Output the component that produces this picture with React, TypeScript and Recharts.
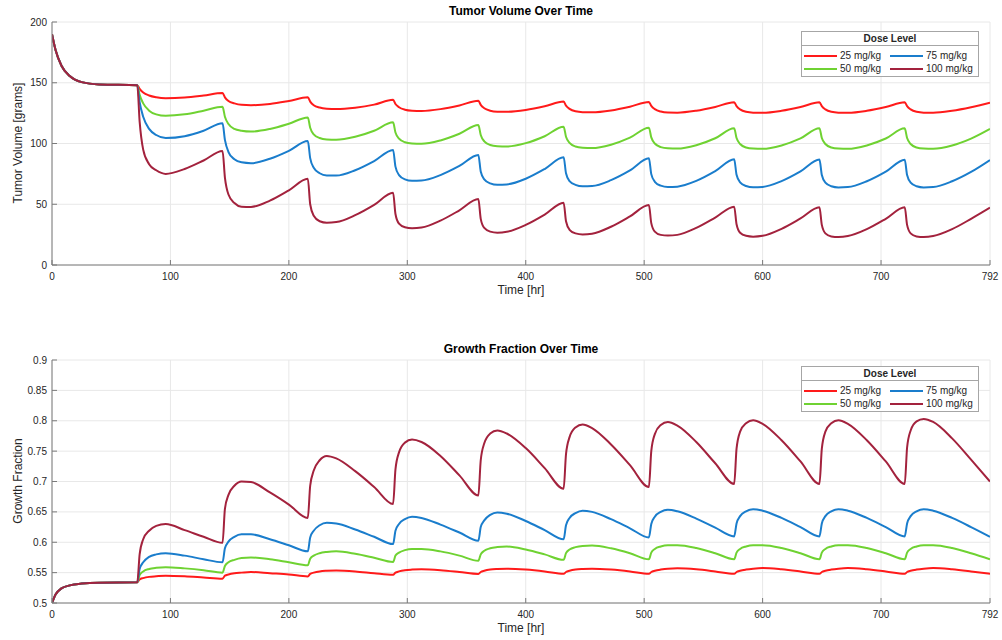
import React from 'react';
import { LineChart, Line, XAxis, YAxis, CartesianGrid } from 'recharts';

// sample times [hr]: start-up, then 8 points per 72 hr dose cycle
const hours = [
  0, 3, 8, 15, 25, 40,
  72, 74, 77, 82, 88, 96, 112, 128,
  144, 146, 149, 154, 160, 168, 184, 200,
  216, 218, 221, 226, 232, 240, 256, 272,
  288, 290, 293, 298, 304, 312, 328, 344,
  360, 362, 365, 370, 376, 384, 400, 416,
  432, 434, 437, 442, 448, 456, 472, 488,
  504, 506, 509, 514, 520, 528, 544, 560,
  576, 578, 581, 586, 592, 600, 616, 632,
  648, 650, 653, 658, 664, 672, 688, 704,
  720, 722, 725, 730, 736, 744, 760, 776,
  792,
];

const tumor25 = [
  190, 177, 164, 155.5, 150.5, 148.6,
  148, 145, 142, 139.5, 138, 137.2, 137.8, 139.5,
  141.5, 138, 135, 133, 131.8, 131.5, 132.5, 135,
  138, 134.5, 131.5, 129.6, 128.7, 128.4, 129.5, 132,
  136, 132.5, 129.8, 127.8, 127, 126.8, 128.3, 131.3,
  135.2, 131.8, 129, 127, 126.2, 126.1, 127.6, 130.6,
  134.5, 131.2, 128.5, 126.5, 125.8, 125.7, 127.2, 130.3,
  134.2, 131, 128.3, 126.3, 125.5, 125.4, 127, 130.1,
  134, 130.8, 128.1, 126.1, 125.4, 125.3, 126.9, 130,
  134, 130.8, 128.1, 126.1, 125.4, 125.3, 126.9, 130,
  134, 130.8, 128.1, 126.1, 125.4, 125.3, 126.9, 129.8,
  133.5,
];
const tumor50 = [
  190, 177, 164, 155.5, 150.5, 148.6,
  148, 140, 133, 127, 124, 122.8, 124, 127,
  130.3, 122, 116, 112, 110.5, 109.8, 112, 116.3,
  121.5, 113, 107.5, 104.5, 103.3, 103, 105.5, 110.5,
  117.4, 109, 104, 101, 100, 99.7, 102.5, 108,
  115.2, 107, 101.8, 98.8, 97.8, 97.5, 100.3, 106,
  113.8, 105.5, 100.5, 97.5, 96.5, 96.2, 99, 104.8,
  113, 105, 100, 97, 96, 95.8, 98.6, 104.3,
  112.5, 104.5, 99.6, 96.7, 95.8, 95.6, 98.4, 104.2,
  112.6, 104.5, 99.6, 96.7, 95.8, 95.6, 98.4, 104.1,
  112.5, 104.5, 99.6, 96.7, 95.8, 95.6, 98.3, 104,
  112,
];
const tumor75 = [
  190, 177, 164, 155.5, 150.5, 148.6,
  148, 134, 122, 112, 107, 104.5, 106, 110.5,
  116.6, 103, 93, 87, 84.5, 83.8, 87.5, 94,
  102, 88, 80, 75.5, 73.7, 73.6, 78, 85.5,
  94.7, 81, 74, 70.5, 69.3, 69.5, 74, 81.5,
  90.5, 77, 70.5, 67.2, 66, 66.3, 71, 79,
  88.6, 75.5, 69, 66, 64.8, 65, 69.8, 77.8,
  87.8, 74.8, 68.5, 65.3, 64.2, 64.5, 69.2, 77.2,
  87, 74.2, 68, 65, 63.9, 64.2, 69, 77,
  86.8, 74, 67.8, 64.8, 63.8, 64.1, 68.9, 76.8,
  86.7, 74, 67.8, 64.8, 63.8, 64.1, 68.9, 76.6,
  86.4,
];
const tumor100 = [
  190, 177, 164, 155.5, 150.5, 148.6,
  148, 118, 95, 83, 78, 75, 79, 86,
  93.8, 72, 58, 51, 48, 47.8, 53, 61.5,
  71, 50, 40.5, 36, 34.8, 35.3, 41, 49.5,
  59.5, 42, 34, 31, 30.2, 30.8, 36.5, 45,
  54.3, 38, 30.5, 27.5, 26.6, 27.3, 33, 41.5,
  51.3, 36, 29, 26, 25.2, 25.8, 31.5, 40,
  49.4, 34.5, 27.5, 24.8, 24.2, 24.8, 30.5, 39,
  48, 33.5, 26.5, 24, 23.3, 24, 29.8, 38.3,
  47.5, 33, 26, 23.5, 23, 23.8, 29.5, 38,
  47.5, 33, 26, 23.5, 23, 23.8, 29.5, 38,
  47.2,
];

const growth25 = [
  0.5, 0.514, 0.524, 0.529, 0.532, 0.5335,
  0.534, 0.539, 0.541, 0.543, 0.544, 0.545, 0.544, 0.542,
  0.54, 0.545, 0.547, 0.549, 0.55, 0.551, 0.549, 0.547,
  0.5437, 0.548, 0.55, 0.552, 0.553, 0.5535, 0.552, 0.549,
  0.5465, 0.55, 0.552, 0.554, 0.555, 0.5555, 0.554, 0.551,
  0.5477, 0.551, 0.553, 0.555, 0.556, 0.5565, 0.555, 0.552,
  0.548, 0.551, 0.553, 0.555, 0.556, 0.5565, 0.555, 0.552,
  0.548, 0.551, 0.553, 0.555, 0.5565, 0.557, 0.5555, 0.552,
  0.548, 0.551, 0.553, 0.555, 0.5565, 0.5575, 0.5555, 0.552,
  0.548, 0.551, 0.553, 0.555, 0.5565, 0.5575, 0.5555, 0.552,
  0.548, 0.551, 0.553, 0.555, 0.5565, 0.5575, 0.5555, 0.552,
  0.548,
];
const growth50 = [
  0.5, 0.514, 0.524, 0.529, 0.532, 0.5335,
  0.534, 0.546, 0.552, 0.556, 0.558, 0.559, 0.557, 0.554,
  0.55, 0.561, 0.567, 0.571, 0.574, 0.575, 0.572, 0.567,
  0.562, 0.573, 0.578, 0.582, 0.584, 0.585, 0.581, 0.5745,
  0.5675, 0.578, 0.583, 0.587, 0.589, 0.589, 0.585, 0.578,
  0.5695, 0.58, 0.586, 0.59, 0.592, 0.593, 0.588, 0.58,
  0.571, 0.582, 0.588, 0.592, 0.594, 0.5945, 0.59, 0.582,
  0.572, 0.583, 0.589, 0.593, 0.595, 0.595, 0.5905, 0.582,
  0.572, 0.583, 0.589, 0.593, 0.595, 0.595, 0.5905, 0.582,
  0.572, 0.583, 0.589, 0.593, 0.595, 0.595, 0.5905, 0.582,
  0.572, 0.583, 0.589, 0.593, 0.595, 0.595, 0.5905, 0.582,
  0.572,
];
const growth75 = [
  0.5, 0.514, 0.524, 0.529, 0.532, 0.5335,
  0.534, 0.556, 0.567, 0.576, 0.58, 0.582, 0.578, 0.572,
  0.567, 0.59, 0.601, 0.609, 0.613, 0.613, 0.605, 0.595,
  0.585, 0.608, 0.619, 0.628, 0.632, 0.631, 0.621, 0.609,
  0.597, 0.619, 0.63, 0.638, 0.642, 0.64, 0.629, 0.616,
  0.6025, 0.625, 0.636, 0.645, 0.649, 0.647, 0.635, 0.62,
  0.605, 0.628, 0.64, 0.648, 0.652, 0.65, 0.638, 0.623,
  0.608, 0.63, 0.642, 0.65, 0.6535, 0.651, 0.639, 0.624,
  0.6095, 0.631, 0.643, 0.651, 0.6545, 0.652, 0.64, 0.625,
  0.6095, 0.631, 0.643, 0.651, 0.6545, 0.652, 0.64, 0.625,
  0.6095, 0.631, 0.643, 0.651, 0.6545, 0.652, 0.64, 0.625,
  0.609,
];
const growth100 = [
  0.5, 0.514, 0.524, 0.529, 0.532, 0.5335,
  0.534, 0.58, 0.605, 0.619, 0.627, 0.63, 0.62, 0.609,
  0.599, 0.655, 0.678, 0.693, 0.7, 0.699, 0.682, 0.662,
  0.64, 0.693, 0.718, 0.735, 0.742, 0.738, 0.717, 0.691,
  0.663, 0.72, 0.748, 0.764, 0.769, 0.765, 0.742, 0.71,
  0.677, 0.735, 0.763, 0.779, 0.784, 0.779, 0.755, 0.722,
  0.688, 0.745, 0.773, 0.789, 0.794, 0.788, 0.761, 0.727,
  0.691, 0.75, 0.778, 0.793, 0.798, 0.792, 0.765, 0.73,
  0.696, 0.754, 0.782, 0.796, 0.801, 0.795, 0.768, 0.733,
  0.696, 0.754, 0.782, 0.796, 0.801, 0.795, 0.768, 0.733,
  0.696, 0.756, 0.784, 0.799, 0.803, 0.798, 0.771, 0.736,
  0.7,
];

const timeTicks = [0, 100, 200, 300, 400, 500, 600, 700, 792];
const tumorTicks = [0, 50, 100, 150, 200];
const growthTicks = [0.5, 0.55, 0.6, 0.65, 0.7, 0.75, 0.8, 0.85, 0.9];

const doseLabels = ['25 mg/kg', '50 mg/kg', '75 mg/kg', '100 mg/kg'];
const doseKeys = ['d25', 'd50', 'd75', 'd100'];
const doseColors = ['#ff1a1a', '#6fd232', '#1a7dcc', '#a3223d'];

const tumorData = hours.map((t, i) => ({
  t, d25: tumor25[i], d50: tumor50[i], d75: tumor75[i], d100: tumor100[i],
}));
const growthData = hours.map((t, i) => ({
  t, d25: growth25[i], d50: growth50[i], d75: growth75[i], d100: growth100[i],
}));

const FONT = '"Liberation Sans", Arial, Helvetica, sans-serif';
const AXIS = '#7a7a7a';
const TEXT = '#262626';

const XTick = ({ x, y, payload }: any) => (
  <g>
    <line x1={x} x2={x} y1={y - 8} y2={y - 13} stroke={AXIS} />
    <text x={x} y={y} dy="0.71em" textAnchor="middle" fontSize={10} fontFamily={FONT} fill={TEXT}>
      {payload.value}
    </text>
  </g>
);

const YTick = ({ x, y, payload }: any) => (
  <g>
    <line x1={x + 5} x2={x + 10} y1={y} y2={y} stroke={AXIS} />
    <text x={x} y={y} dy="0.355em" textAnchor="end" fontSize={10} fontFamily={FONT} fill={TEXT}>
      {payload.value}
    </text>
  </g>
);

const DoseLegend = ({ top }: { top: number }) => {
  const order = [0, 2, 1, 3]; // column-major, 2 columns
  return (
    <div style={{
      position: 'absolute', left: 801, top, width: 178, border: '1px solid #a6a6a6',
      background: '#fff', boxSizing: 'border-box', fontFamily: FONT, fontSize: 10, color: TEXT,
    }}>
      <div style={{ height: 13, lineHeight: '13px', textAlign: 'center', fontWeight: 'bold', borderBottom: '1px solid #a6a6a6' }}>
        Dose Level
      </div>
      <div style={{ display: 'grid', gridTemplateColumns: '86px 86px', padding: '3px 0 1px 2px' }}>
        {order.map((i) => (
          <div key={i} style={{ display: 'flex', alignItems: 'center', height: 13 }}>
            <span style={{ display: 'inline-block', width: 33, height: 2, background: doseColors[i], marginRight: 3 }} />
            <span>{doseLabels[i]}</span>
          </div>
        ))}
      </div>
    </div>
  );
};

interface PanelProps {
  top: number;
  title: string;
  yLabel: string;
  data: any[];
  yDomain: [number, number];
  yTicks: number[];
  legendTop: number;
}

const Panel = ({ top, title, yLabel, data, yDomain, yTicks, legendTop }: PanelProps) => (
  <div style={{ position: 'absolute', left: 0, top, width: 1002, height: 320 }}>
    <LineChart width={1002} height={320} data={data} margin={{ top: 22, right: 12, bottom: 25, left: 12 }}>
      <CartesianGrid stroke="#e8e8e8" />
      <XAxis
        dataKey="t"
        type="number"
        domain={[0, 792]}
        ticks={timeTicks}
        interval={0}
        allowDataOverflow
        height={30}
        stroke={AXIS}
        tickSize={0}
        tickMargin={8}
        tick={<XTick />}
      />
      <YAxis
        type="number"
        domain={yDomain}
        ticks={yTicks}
        interval={0}
        allowDataOverflow
        width={40}
        stroke={AXIS}
        tickSize={0}
        tickMargin={5}
        tick={<YTick />}
      />
      {doseKeys.map((k, i) => (
        <Line
          key={k}
          type="monotone"
          dataKey={k}
          stroke={doseColors[i]}
          strokeWidth={2}
          dot={false}
          isAnimationActive={false}
        />
      ))}
    </LineChart>
    <div style={{
      position: 'absolute', left: 52, width: 938, top: 4, textAlign: 'center',
      fontFamily: FONT, fontSize: 12, fontWeight: 'bold', color: '#000',
    }}>
      {title}
    </div>
    <div style={{
      position: 'absolute', left: 52, width: 938, top: 283, textAlign: 'center',
      fontFamily: FONT, fontSize: 12, color: TEXT,
    }}>
      Time [hr]
    </div>
    <div style={{
      position: 'absolute', left: 18, top: 143, width: 0, height: 0,
    }}>
      <div style={{
        position: 'absolute', left: 0, top: 0, transform: 'translate(-50%, -50%) rotate(-90deg)',
        whiteSpace: 'nowrap', fontFamily: FONT, fontSize: 12, color: TEXT,
      }}>
        {yLabel}
      </div>
    </div>
    <DoseLegend top={legendTop} />
  </div>
);

export default function App() {
  return (
    <div style={{ position: 'absolute', left: 0, top: 0, width: 1002, height: 640, background: '#fff' }}>
      <Panel
        top={0}
        title="Tumor Volume Over Time"
        yLabel="Tumor Volume [grams]"
        data={tumorData}
        yDomain={[0, 200]}
        yTicks={tumorTicks}
        legendTop={31}
      />
      <Panel
        top={338}
        title="Growth Fraction Over Time"
        yLabel="Growth Fraction"
        data={growthData}
        yDomain={[0.5, 0.9]}
        yTicks={growthTicks}
        legendTop={28}
      />
    </div>
  );
}
